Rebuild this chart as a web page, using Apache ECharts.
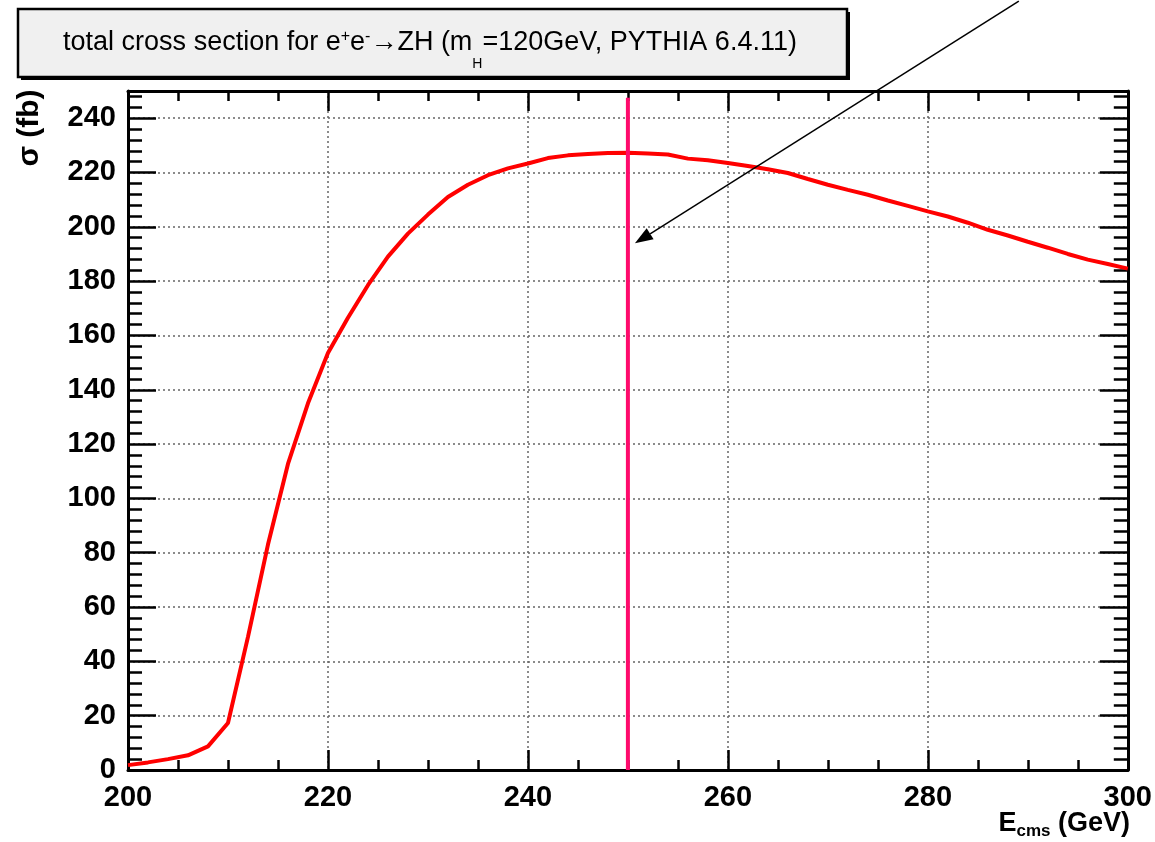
<!DOCTYPE html>
<html>
<head>
<meta charset="utf-8">
<script src="https://cdn.jsdelivr.net/npm/echarts@6/dist/echarts.min.js"></script>
<style>html,body{margin:0;padding:0;background:#fff}#c{width:1155px;height:842px}</style>
</head>
<body>
<div id="c"></div>
<script>
// ---- data ----
const energyGeV = [200,202,204,206,208,210,212,214,216,218,220,222,224,226,228,230,232,234,236,238,240,
  242,244,246,248,250,252,254,256,258,260,262,264,266,268,270,272,274,276,278,280,
  282,284,286,288,290,292,294,296,298,300];
const sigmaFb = [1.8,2.8,4.0,5.4,8.7,17.3,49,83,112.7,135,153.5,166.5,178.5,189,197.5,204.5,211,215.5,219,221.5,223.3,
  225.3,226.3,226.8,227.2,227.3,227.0,226.6,225.1,224.5,223.5,222.4,221.2,219.8,217.6,215.5,213.6,211.8,209.7,207.7,205.7,
  203.8,201.5,198.9,196.8,194.5,192.3,190.0,187.9,186.3,184.6];
const markerEnergy = 250;      // vertical line at sqrt(s)=250 GeV
const markerTop = 247.5;
const arrowFrom = [289.1, 283.1];  // annotation arrow (data coords, tail outside frame)
const arrowTo = [250.7, 193.9];
const xTickLabels = [200,220,240,260,280,300];
const yTickLabels = [0,20,40,60,80,100,120,140,160,180,200,220,240];

const FONT = '"Liberation Sans", Arial, Helvetica, sans-serif';
const chart = echarts.init(document.getElementById('c'), null, {renderer: 'canvas'});

const tickStyle = {color: '#000', width: 2.5};
const gridLine = {show: true, lineStyle: {color: '#666', width: 1.5, type: [2, 3]}};

function xAx(pos, main) {
  return {
    type: 'value', min: 200, max: 300, interval: 20, position: pos,
    axisLine: {show: true, onZero: false, lineStyle: {color: '#000', width: 3}},
    axisTick: {show: true, inside: true, length: 20, lineStyle: tickStyle},
    minorTick: {show: true, splitNumber: 4, length: 10, lineStyle: tickStyle},
    axisLabel: {show: main, fontSize: 29, fontWeight: 'bold', color: '#000', fontFamily: FONT, margin: 13,
      formatter: v => xTickLabels.includes(v) ? String(v) : ''},
    splitLine: main ? gridLine : {show: false},
    minorSplitLine: {show: false}
  };
}
function yAx(pos, main) {
  return {
    type: 'value', min: 0, max: 250, interval: 20, position: pos,
    axisLine: {show: true, onZero: false, lineStyle: {color: '#000', width: 3}},
    axisTick: {show: true, inside: true, length: 28, lineStyle: tickStyle},
    minorTick: {show: true, splitNumber: 5, length: 14, lineStyle: tickStyle},
    axisLabel: {show: main, fontSize: 29, fontWeight: 'bold', color: '#000', fontFamily: FONT, margin: 12,
      showMaxLabel: false,
      formatter: v => yTickLabels.includes(v) ? String(v) : ''},
    splitLine: main ? gridLine : {show: false},
    minorSplitLine: {show: false}
  };
}

const option = {
  animation: false,
  backgroundColor: '#ffffff',
  grid: {left: 128, right: 25, top: 91, bottom: 72},
  xAxis: [xAx('bottom', true), xAx('top', false)],
  yAxis: [yAx('left', true), yAx('right', false)],
  series: [
    {
      type: 'line', xAxisIndex: 0, yAxisIndex: 0,
      data: energyGeV.map((e, i) => [e, sigmaFb[i]]),
      showSymbol: false, symbol: 'none',
      lineStyle: {color: '#ff0000', width: 4}, z: 3
    },
    {
      type: 'line', xAxisIndex: 0, yAxisIndex: 0,
      data: [[markerEnergy, 0], [markerEnergy, markerTop]],
      showSymbol: false, symbol: 'none',
      lineStyle: {color: '#ff0a6c', width: 4}, z: 4
    }
  ]
};
chart.setOption(option);

const p1 = chart.convertToPixel({seriesIndex: 0}, arrowFrom);
const p2 = chart.convertToPixel({seriesIndex: 0}, arrowTo);
const dx = p2[0] - p1[0], dy = p2[1] - p1[1];
const len = Math.hypot(dx, dy);
const ux = dx / len, uy = dy / len;
const headL = 18, headW = 6.5;
const bx = p2[0] - ux * headL, by = p2[1] - uy * headL;

chart.setOption({
  graphic: [
    {type: 'rect', z: 10, shape: {x: 21, y: 12, width: 829, height: 68}, style: {fill: '#000'}},
    {type: 'rect', z: 11, shape: {x: 18, y: 9, width: 829, height: 68}, style: {fill: '#f0f0f0', stroke: '#000', lineWidth: 2.5}},
    {type: 'text', z: 12, x: 430, y: 50,
      style: {
        text: '{n|total cross section for e}{sup|+}{n|e}{sup|-}{n|\u2192ZH (m}{sub|H}{n|=120GeV, PYTHIA 6.4.11)}',
        align: 'center', verticalAlign: 'middle',
        rich: {
          n: {fontSize: 27, fontFamily: FONT, fill: '#000', color: '#000', lineHeight: 30, verticalAlign: 'top'},
          sup: {fontSize: 16, fontFamily: FONT, fill: '#000', color: '#000', lineHeight: 20, verticalAlign: 'top'},
          sub: {fontSize: 14, fontFamily: FONT, fill: '#000', color: '#000', lineHeight: 42, verticalAlign: 'bottom'}
        }
      }
    },
    {type: 'text', z: 12, x: 30, y: 128, rotation: Math.PI / 2,
      style: {text: '\u03c3 (fb)', font: 'bold 30px ' + FONT, fill: '#000', align: 'center', verticalAlign: 'middle'}},
    {type: 'text', z: 12, x: 1130, y: 825,
      style: {
        text: '{e|E}{s|cms}{e| (GeV)}', align: 'right', verticalAlign: 'middle',
        rich: {
          e: {fontSize: 27, fontWeight: 'bold', fontFamily: FONT, fill: '#000', color: '#000', lineHeight: 27, verticalAlign: 'top'},
          s: {fontSize: 17, fontWeight: 'bold', fontFamily: FONT, fill: '#000', color: '#000', lineHeight: 30, verticalAlign: 'bottom'}
        }
      }
    },
    {type: 'line', z: 12, shape: {x1: p1[0], y1: p1[1], x2: bx, y2: by}, style: {stroke: '#000', lineWidth: 1.5}},
    {type: 'polygon', z: 12, shape: {points: [
      [p2[0], p2[1]],
      [bx - uy * headW, by + ux * headW],
      [bx + uy * headW, by - ux * headW]
    ]}, style: {fill: '#000'}}
  ]
});
</script>
</body>
</html>
